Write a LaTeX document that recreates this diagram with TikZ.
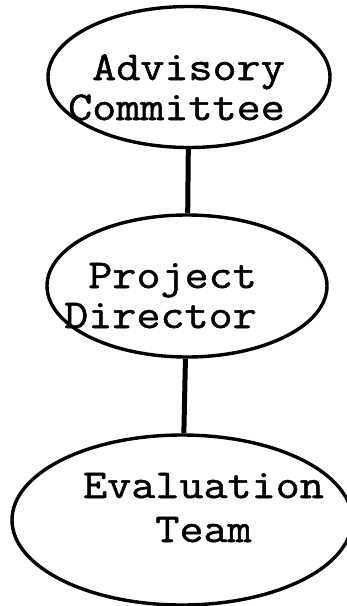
\documentclass[tikz,border=0pt]{standalone}
\usepackage{fontspec}
\newfontfamily\typew{Latin Modern Mono}[FakeStretch=1.14, FakeBold=1.2]
\usetikzlibrary{shapes.geometric, positioning}

\begin{document}
\begin{tikzpicture}[x=1pt, y=-1pt, oval/.style={draw, ellipse, line width=3.4pt, inner sep=0pt}, txt/.style={font=\typew\fontsize{41}{40}\selectfont, inner sep=0pt}]
\useasboundingbox (0,0) rectangle (347,606);

\node[oval, minimum width=282pt, minimum height=141pt] (AC) at (189,77){};
\node[oval, minimum width=280pt, minimum height=142pt] (PD) at (187,286){};
\node[oval, minimum width=340pt, minimum height=170pt] (ET) at (182,520){};

\node[txt, align=right, anchor=base east] (ACt) at (285,120){Advisory\\Committee};
\node[txt, align=right, anchor=base east] (PDt) at (257,328){Project\\Director};
\node[txt, align=center, anchor=base] (ETt) at (203.5,542){Evaluation\\[4pt]Team};

\draw[line width=5pt] (AC) -- (PD);
\draw[line width=5pt] (PD) -- (ET);
\end{tikzpicture}
\end{document}
